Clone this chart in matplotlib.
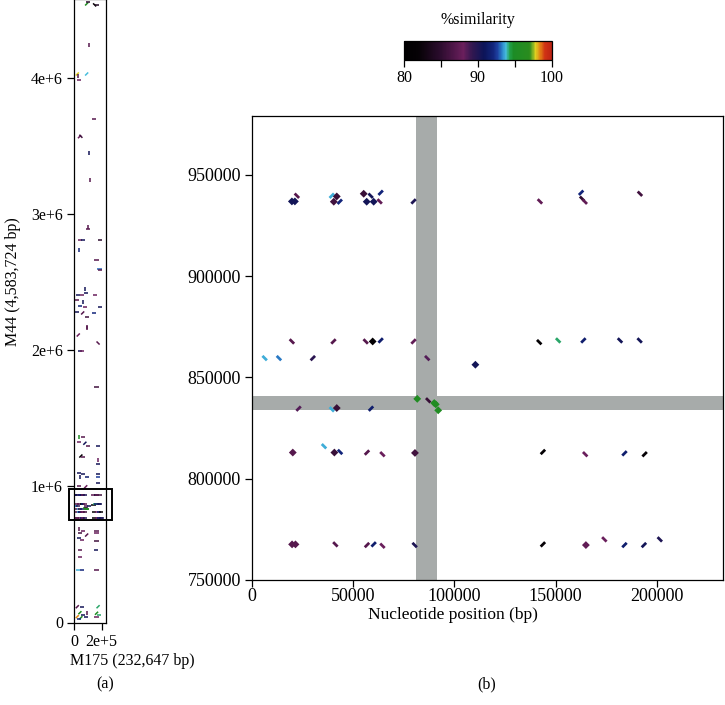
import numpy as np
import matplotlib
matplotlib.use("Agg")
import matplotlib.pyplot as plt
from matplotlib.colors import LinearSegmentedColormap, Normalize
from matplotlib.collections import LineCollection
from matplotlib.patches import Rectangle, ConnectionPatch
import matplotlib.cm as cm

plt.rcParams['font.family'] = ['Liberation Serif', 'DejaVu Serif']

# ---------------- data ----------------
M175_LEN = 232647
M44_LEN = 4583724

# zoom window (panel b)
zoom_xlim = [0, 232647]
zoom_ylim = [750000, 979000]
# shaded bands
band_x = [80800, 91600]
band_y = [834000, 840700]

# hits inside the zoom window: x (M175), y (M44), kind, similarity
zoom_x = [22167, 19704, 21182, 39408, 41871, 40393, 43349, 55171, 58620, 63545,
          56649, 60097, 63053, 79801, 142214, 162558, 163050, 164380, 191621,
          19704, 40245, 56156, 59605, 63545, 79801, 141869, 151228, 163690, 181769, 191474,
          6256, 13300, 30049, 86550, 110342,
          23004, 39408, 41871, 58767, 81624, 87042, 90000, 90788, 91970,
          20148, 35566, 40689, 43497, 56797, 64432, 80491, 143692, 164577, 183986, 193936,
          19800, 21477, 41181, 56797, 60097, 64432, 80343, 143692, 164922, 174036,
          183986, 193592, 201424]
zoom_y = [939650, 936843, 936843, 939650, 939300, 936700, 936700, 940636, 939650, 941130,
          936700, 936700, 936843, 936843, 936843, 941130, 938170, 936700, 940636,
          867730, 867730, 867730, 867730, 868224, 867730, 867390, 868224, 868224, 868224, 868224,
          859504, 859504, 859504, 859504, 856254,
          834580, 834235, 834875, 834580, 839407, 838668, 837340, 836700, 833742,
          812906, 816008, 812906, 813200, 812906, 812068, 812710, 813200, 812068, 812500, 812068,
          767586, 767586, 767586, 767241, 767586, 766896, 767241, 767586, 767241, 770049,
          767241, 767241, 770049]
zoom_kind = ['r', 'd', 'd', 'f', 'd', 'd', 'f', 'd', 'r', 'f',
             'd', 'd', 'r', 'f', 'r', 'f', 'r', 'r', 'r',
             'r', 'f', 'r', 'd', 'f', 'f', 'r', 'r', 'f', 'r', 'r',
             'r', 'r', 'f', 'r', 'd',
             'f', 'r', 'd', 'f', 'd', 'r', 'd', 'd', 'd',
             'd', 'r', 'd', 'r', 'f', 'r', 'd', 'f', 'r', 'f', 'f',
             'd', 'd', 'r', 'f', 'f', 'r', 'r', 'f', 'd', 'r',
             'f', 'f', 'r']
zoom_sim = [87, 90.5, 90.5, 93.6, 85.5, 86, 92, 85.5, 90.5, 92,
            90.5, 90.5, 87.5, 90, 87.5, 92, 85, 87.5, 86,
            87, 87, 87, 81, 91.5, 87.5, 81.5, 94.2, 91.5, 90.5, 90.5,
            93.6, 93.2, 89.5, 88.5, 90.5,
            88.5, 93.6, 85.5, 91.5, 95.5, 85.5, 95.5, 95.5, 95.5,
            87, 93.6, 85.5, 92, 87, 88, 86, 81.5, 88, 91.5, 82,
            87, 87, 87, 87, 91.5, 88, 90, 82, 87.5, 88,
            91.5, 90.5, 90]

# hits elsewhere on the genome (panel a): x, y, kind, similarity
genome_x = [92000, 100000, 150000, 165000, 110000, 24000, 30000, 38000, 92000, 144000,
            40000, 50000, 110500, 115000, 103000, 105000, 44000, 67000, 190000, 36000,
            164000, 185000, 190000,
            79000, 86000, 31000, 55000, 19000, 65000, 43000, 79000, 24000, 63000, 92000,
            152000, 188000, 144000, 96000,
            31000, 96000, 43000, 60000, 175000, 164000,
            36000, 67000, 36000, 79000, 103000, 175000, 50000, 67000, 175000, 175000,
            36000, 67000, 96000, 43000, 175000, 175000, 175000, 36000, 85000,
            36000, 67000, 43000, 92000, 36000, 60000, 164000, 164000, 164000,
            43000, 159000, 43000, 27000, 55000, 164000,
            24000, 57000, 43000, 67000, 24000, 50000, 87000, 96000, 36000,
            175000, 164000, 181000, 164000]
genome_y = [4548000, 4560000, 4541000, 4540000, 4246000, 4033000, 4020000, 3989000, 4033000, 3702000,
            3572000, 3575000, 3452000, 3254000, 2893000, 2905000, 2812000, 2812000, 2812000, 2739000,
            2665000, 2600000, 2595000,
            2452000, 2422000, 2408000, 2408000, 2371000, 2359000, 2327000, 2320000, 2285000, 2276000, 2249000,
            2408000, 2320000, 2276000, 2165000,
            2114000, 2173000, 1996000, 1996000, 2055000, 1734000,
            1364000, 1364000, 1329000, 1318000, 1298000, 1298000, 1224000, 1215000, 1195000, 1165000,
            1101000, 1092000, 1072000, 1072000, 1092000, 1067000, 1023000, 1006000, 998000,
            685000, 675000, 656000, 643000, 619000, 607000, 675000, 660000, 601000,
            533000, 533000, 479000, 386000, 386000, 386000,
            116000, 113000, 72000, 55000, 43000, 35000, 43000, 67000, 26000,
            116000, 68000, 55000, 43000]
genome_kind = ['f', 'h', 'r', 'h', 'v', 'f', 'v', 'h', 'f', 'h',
               'f', 'r', 'v', 'v', 'h', 'v', 'h', 'h', 'h', 'v',
               'h', 'h', 'h',
               'v', 'h', 'h', 'h', 'h', 'v', 'h', 'h', 'h', 'f', 'h',
               'h', 'h', 'h', 'v',
               'f', 'v', 'h', 'h', 'r', 'h',
               'v', 'h', 'h', 'f', 'h', 'h', 'f', 'h', 'v', 'h',
               'h', 'h', 'h', 'v', 'h', 'h', 'h', 'h', 'f',
               'v', 'h', 'h', 'f', 'h', 'h', 'h', 'h', 'h',
               'h', 'h', 'h', 'h', 'h', 'h',
               'f', 'h', 'f', 'h', 'f', 'f', 'h', 'v', 'h',
               'f', 'f', 'h', 'h']
genome_sim = [95.5, 85, 82, 84, 87, 97.8, 87, 88, 93.8, 87,
              88, 86, 90.5, 87, 87, 87, 88, 90.5, 85, 92,
              87, 93, 87,
              90.5, 90.5, 90.5, 88, 87, 90.5, 92, 88, 90.5, 87, 86,
              88, 90.5, 92, 87,
              88, 87, 90.5, 88, 87, 86,
              95.5, 87, 88, 90.5, 87, 90.5, 82, 87, 88, 90.5,
              90.5, 90.5, 91.5, 90.5, 90.5, 92.5, 90.5, 87, 88,
              87, 88, 86, 87, 90.5, 88, 87, 88, 86,
              87, 90.5, 88, 93.6, 92, 87,
              87, 90.5, 95.5, 90.5, 98.3, 95.5, 90.5, 87, 92,
              94.2, 95.5, 94.2, 88]

x_ticks_b = [0, 50000, 100000, 150000, 200000]
y_ticks_b = [750000, 800000, 850000, 900000, 950000]
x_ticks_a = [0, 200000]
x_ticklabels_a = ['0', '2e+5']
y_ticks_a = [0, 1000000, 2000000, 3000000, 4000000]
y_ticklabels_a = ['0', '1e+6', '2e+6', '3e+6', '4e+6']
cb_ticks = [80, 85, 90, 95, 100]
cb_ticklabels = ['80', '', '90', '', '100']

# ---------------- style ----------------
cmap = LinearSegmentedColormap.from_list('sim', [
    (0.000, '#000000'), (0.100, '#060206'), (0.245, '#2c0c2e'),
    (0.330, '#4e1648'), (0.400, '#6a1f5c'), (0.460, '#321750'),
    (0.540, '#0c1458'), (0.600, '#12247a'), (0.630, '#1c3c9c'),
    (0.665, '#2c86cc'), (0.690, '#48bede'), (0.715, '#22a04a'),
    (0.740, '#1c8c26'), (0.850, '#2a8c1e'), (0.870, '#7aae22'),
    (0.890, '#e0d020'), (0.925, '#e07814'), (0.955, '#d03214'),
    (1.000, '#bc2214')])
norm = Normalize(80, 100)
band_color = '#a7abaa'

W, H = 725, 705
fig = plt.figure(figsize=(W / 100, H / 100), dpi=100)


def fbox(l, t, r, b):
    return [l / W, 1 - b / H, (r - l) / W, (b - t) / H]


# ---------------- panel a ----------------
axA = fig.add_axes(fbox(74, -0.9, 106, 622.5))
axA.set_xlim(0, M175_LEN)
axA.set_ylim(0, M44_LEN)
ax_x = list(genome_x) + list(zoom_x)
ax_y = list(genome_y) + list(zoom_y)
ax_k = list(genome_kind) + ['h'] * len(zoom_x)
ax_s = list(genome_sim) + list(zoom_sim)
dx, dy = 15000, 15000
segsA, colsA = [], []
for x, y, k, s in zip(ax_x, ax_y, ax_k, ax_s):
    if k == 'h':
        seg = [(x - dx, y), (x + dx, y)]
    elif k == 'v':
        seg = [(x, y - dy), (x, y + dy)]
    elif k == 'f':
        seg = [(x - 0.75 * dx, y - 0.75 * dy), (x + 0.75 * dx, y + 0.75 * dy)]
    else:
        seg = [(x - 0.75 * dx, y + 0.75 * dy), (x + 0.75 * dx, y - 0.75 * dy)]
    segsA.append(seg)
    colsA.append(cmap(norm(s)))
axA.add_collection(LineCollection(segsA, colors=colsA, linewidths=1.1))
axA.set_xticks(x_ticks_a)
axA.set_xticklabels(x_ticklabels_a)
axA.set_yticks(y_ticks_a)
axA.set_yticklabels(y_ticklabels_a)
axA.tick_params(direction='out', length=5, width=0.9, labelsize=11.5, pad=3)
for sp in axA.spines.values():
    sp.set_linewidth(0.9)
fig.text(13 / W, 1 - 282 / H, 'M44 (4,583,724 bp)', fontsize=11.5, rotation=90,
         ha='center', va='center')
fig.text(70 / W, 1 - 661 / H, 'M175 (232,647 bp)', fontsize=11.5, ha='left', va='center')
fig.text(105 / W, 1 - 684 / H, '(a)', fontsize=11.5, ha='center', va='center')

rect = Rectangle((-36000, zoom_ylim[0]), 312000, zoom_ylim[1] - zoom_ylim[0],
                 fill=False, edgecolor='black', linewidth=1.4, clip_on=False, zorder=5)
axA.add_patch(rect)

# ---------------- panel b ----------------
axB = fig.add_axes(fbox(252, 116, 723, 580))
axB.set_xlim(zoom_xlim)
axB.set_ylim(zoom_ylim)
axB.axvspan(band_x[0], band_x[1], color=band_color, lw=0, zorder=1)
axB.axhspan(band_y[0], band_y[1], color=band_color, lw=0, zorder=1)
h = 1100
segsB, colsB = [], []
dxs, dys, dcs = [], [], []
for x, y, k, s in zip(zoom_x, zoom_y, zoom_kind, zoom_sim):
    c = cmap(norm(s))
    if k == 'f':
        segsB.append([(x - h, y - h), (x + h, y + h)])
        colsB.append(c)
    elif k == 'r':
        segsB.append([(x - h, y + h), (x + h, y - h)])
        colsB.append(c)
    else:
        dxs.append(x)
        dys.append(y)
        dcs.append(c)
axB.add_collection(LineCollection(segsB, colors=colsB, linewidths=2.0, zorder=3))
axB.scatter(dxs, dys, c=dcs, marker='D', s=16, linewidths=0, zorder=3)
axB.set_xticks(x_ticks_b)
axB.set_xticklabels([str(v) for v in x_ticks_b])
axB.set_yticks(y_ticks_b)
axB.set_yticklabels([str(v) for v in y_ticks_b])
axB.tick_params(direction='out', length=5, width=0.9, labelsize=13, pad=3)
axB.tick_params(axis='x', pad=1)
for sp in axB.spines.values():
    sp.set_linewidth(0.9)
fig.text(453 / W, 1 - 615 / H, 'Nucleotide position (bp)', fontsize=12.5,
         ha='center', va='center')
fig.text(487 / W, 1 - 684 / H, '(b)', fontsize=11.5, ha='center', va='center')

# connecting lines
con1 = ConnectionPatch(xyA=(276000, zoom_ylim[1]), coordsA='data', axesA=axA,
                       xyB=(-0.021, 0.991), coordsB='axes fraction', axesB=axB,
                       color='black', linewidth=0.9)
con2 = ConnectionPatch(xyA=(276000, zoom_ylim[0]), coordsA='data', axesA=axA,
                       xyB=(-0.011, 0.019), coordsB='axes fraction', axesB=axB,
                       color='black', linewidth=0.9)
fig.add_artist(con1)
fig.add_artist(con2)

# ---------------- colorbar ----------------
axC = fig.add_axes(fbox(404, 41, 552, 60))
cb = fig.colorbar(cm.ScalarMappable(norm=norm, cmap=cmap), cax=axC, orientation='horizontal')
cb.set_ticks(cb_ticks)
cb.set_ticklabels(cb_ticklabels)
cb.outline.set_linewidth(0.9)
axC.tick_params(direction='out', length=5, width=0.9, labelsize=11.5, pad=2)
axC.set_title('%similarity', fontsize=11.5, pad=12)

fig.savefig('out.png', dpi=100)
